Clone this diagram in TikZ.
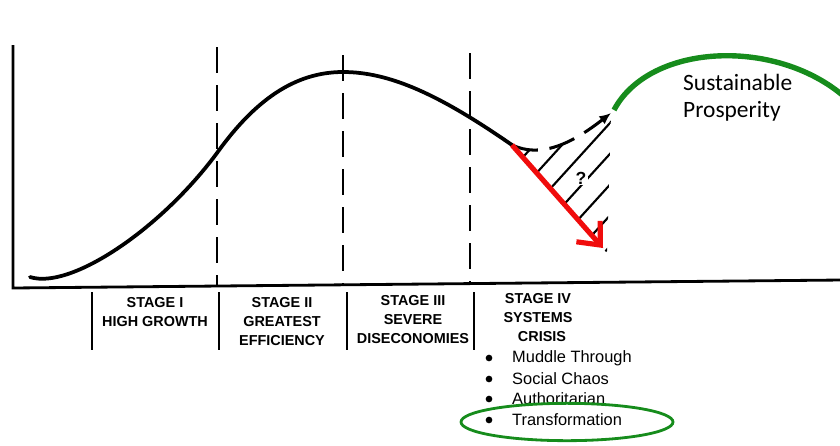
\documentclass[tikz,border=0pt]{standalone}
\usepackage{fontspec}
\setmainfont{Liberation Sans}
\newfontfamily\calibri{Carlito}
\usetikzlibrary{arrows.meta}
\definecolor{crisisred}{RGB}{240,12,12}
\definecolor{hopegreen}{RGB}{22,140,28}
\tikzset{
  axis/.style={line width=2.4pt},
  phase/.style={line width=2.4pt, dash pattern=on 0.78cm off 0.36cm},
  curve/.style={line width=3.2pt, line cap=round},
  stagelabel/.style={font=\fontsize{12.3}{16.5}\selectfont\bfseries, align=center, inner sep=0pt},
  option/.style={font=\fontsize{14}{16}\selectfont, anchor=west, inner sep=0pt},
  dot/.style={circle, fill, inner sep=0pt, minimum size=0.2cm},
  hatch/.style={line width=1.8pt}
}
\begin{document}
\begin{tikzpicture}[x=0.03cm, y=-0.03cm]
  \useasboundingbox (0,0) rectangle (840,445);
  % axes
  \coordinate (top) at (13,45);
  \coordinate (origin) at (13,288);
  \coordinate (far) at (842,280);
  \draw[axis] (top) -- (origin) -- (far);
  % stage borders
  \foreach \x/\t/\b in {217/47/287, 343/55/286, 470/53/284}{
    \draw[phase] (\x,\t) -- (\x,\b);
  }
  \foreach \x in {92,219,347,474}{
    \draw[axis] (\x,292) -- (\x,350);
  }
  % growth curve
  \coordinate (crisis) at (512,145);
  \draw[curve] (30,277) .. controls (70,290) and (160,230) .. (217,153)
    .. controls (255,100) and (295,72) .. (343,72)
    .. controls (390,72) and (440,95) .. (crisis);
  \coordinate (collapse) at (603,248);
  \coordinate (recover) at (611,113);
  % hatched region of uncertainty
  \begin{scope}
    \clip (crisis) .. controls (540,158) and (570,145) .. (recover) -- (607,253) -- cycle;
    \foreach \x in {508,522,...,610}{
      \draw[hatch] (\x-6, {145+1.1*(\x-510)+6.6}) -- ++(90,-99);
    }
  \end{scope}
  \node[fill=white, inner sep=1pt, font=\bfseries\fontsize{15}{15}\selectfont] (query) at (581,178) {?};
  \draw[line width=2.6pt, dash pattern=on 0.8cm off 0.35cm, -{Latex[length=0.35cm, width=0.3cm]}] (crisis) .. controls (540,158) and (570,145) .. (recover);
  \draw[crisisred, line width=4.4pt, -{Straight Barb[length=0.55cm, width=0.95cm]}] (crisis) -- (collapse);
  % sustainable prosperity
  \draw[hopegreen, line width=4.6pt] (614,110) .. controls (650,42) and (780,37) .. (848,100);
  \node[font=\calibri\fontsize{20}{23}\selectfont, align=left, anchor=north west, inner sep=0pt] (goal) at (683,74) {Sustainable\\Prosperity};
  % stage labels
  \node[stagelabel, anchor=north] (stageI) at (155,297) {STAGE I\\HIGH GROWTH};
  \node[stagelabel, anchor=north] (stageII) at (282,297) {STAGE II\\GREATEST\\EFFICIENCY};
  \node[stagelabel, anchor=north] (stageIII) at (413,295) {STAGE III\\SEVERE\\DISECONOMIES};
  \node[stagelabel, anchor=north] (stageIV) at (538,293) {STAGE IV\\SYSTEMS\\\ \ CRISIS};
  % outcomes
  \foreach \y/\name/\t in {358/muddle/Muddle Through, 379/chaos/Social Chaos, 399/author/Authoritarian, 420/transform/Transformation}{
    \node[dot] (\name dot) at (489,\y) {};
    \node[option] (\name) at (512,\y) {\t};
  }
  \draw[hopegreen, line width=2.4pt] (567,422) ellipse [x radius=3.18cm, y radius=0.56cm];
\end{tikzpicture}
\end{document}
